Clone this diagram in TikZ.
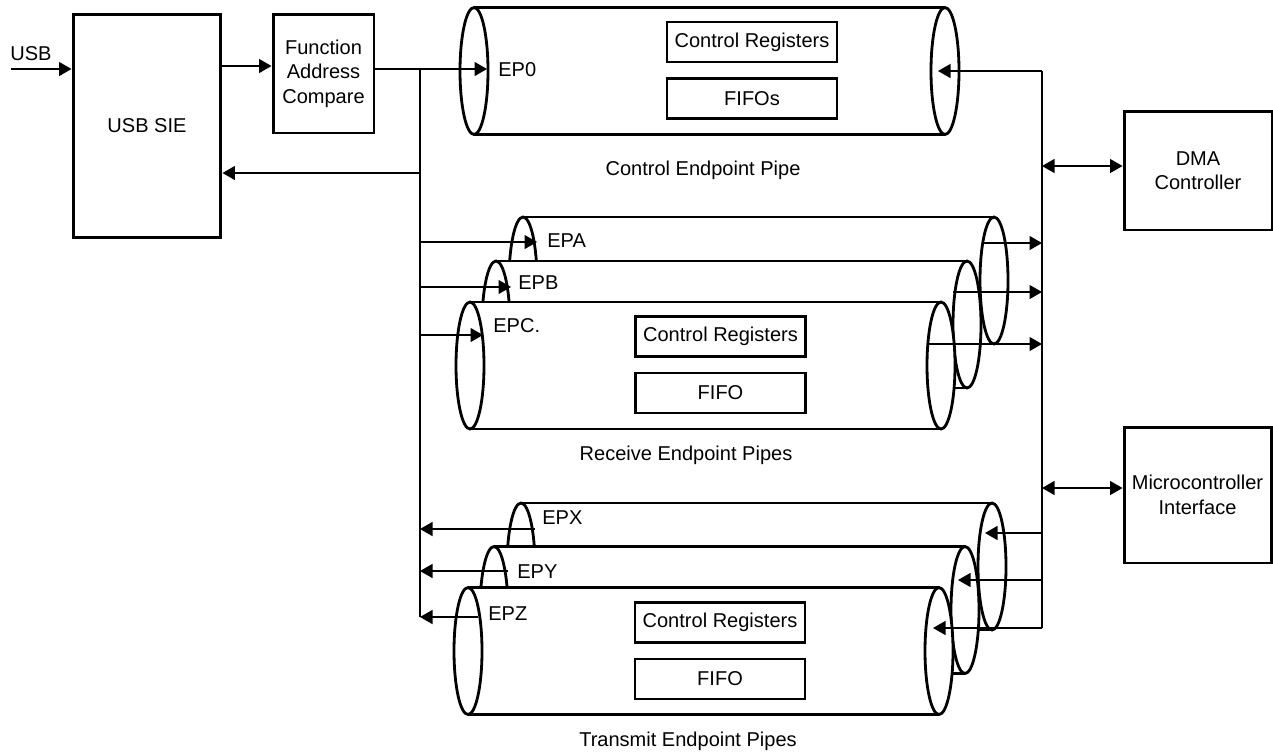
\documentclass[tikz,border=0pt]{standalone}
\usepackage{fontspec}
\setmainfont{Liberation Sans}
\usetikzlibrary{arrows.meta}
\begin{document}
\begin{tikzpicture}[x=0.02cm,y=-0.02cm,
  font=\fontsize{11.4}{14}\selectfont,
  block/.style={draw,line width=1.7pt,align=center,inner sep=0pt},
  regbox/.style={draw,line width=1.3pt,minimum width=3.4cm,minimum height=0.8cm,inner sep=0pt},
  wire/.style={line width=0.75pt},
  arrowline/.style={wire,-{Triangle[length=0.25cm,width=0.28cm]}},
  biarrow/.style={wire,{Triangle[length=0.25cm,width=0.28cm]}-{Triangle[length=0.25cm,width=0.28cm]}},
  rim/.style={line width=1.6pt},
  pipe/.pic={
    \fill[white] (0,-63.5) rectangle (471,63.5);
    \filldraw[rim,fill=white] (471,0) ellipse [x radius=0.28cm,y radius=1.27cm];
    \draw[rim] (0,-63.5) -- (471,-63.5) (0,63.5) -- (471,63.5);
    \filldraw[rim,fill=white] (0,0) ellipse [x radius=0.28cm,y radius=1.27cm];
  }]
\useasboundingbox (0,0) rectangle (1273,752);

% blocks
\node[block,minimum width=2.96cm,minimum height=4.48cm] (sie) at (147,126) {USB SIE};
\node[block,minimum width=2.02cm,minimum height=2.38cm] (fac) at (323.5,73.5) {Function\\Address\\Compare};
\node[block,minimum width=2.96cm,minimum height=2.38cm] (dma) at (1198,170.5) {DMA\\Controller};
\node[block,minimum width=2.94cm,minimum height=2.72cm] (mcu) at (1197.5,495) {Microcontroller\\Interface};
\node[anchor=base west,inner sep=0pt] (usblbl) at (10,60) {USB};

% control pipe
\pic at (474,71) {pipe};
\node[regbox] (ep0reg) at (752,42) {Control Registers};
\node[regbox] (ep0fifo) at (752,98.5) {FIFOs};
\node[anchor=base west,inner sep=0pt] (ep0lbl) at (498,76) {EP0};
\node[anchor=base,inner sep=0pt] (ctrllbl) at (703,175) {Control Endpoint Pipe};

% receive pipes
\pic at (523,280.5) {pipe};
\pic at (496,324.5) {pipe};
\pic at (470,365.5) {pipe};
\node[regbox] (rxreg) at (720.5,336.5) {Control Registers};
\node[regbox] (rxfifo) at (720.5,393) {FIFO};
\node[anchor=base west,inner sep=0pt] (epAlbl) at (547,247) {EPA};
\node[anchor=base west,inner sep=0pt] (epBlbl) at (518,289) {EPB};
\node[anchor=base west,inner sep=0pt] (epClbl) at (493,332) {EPC.};
\node[anchor=base,inner sep=0pt] (rxlbl) at (686,460) {Receive Endpoint Pipes};

% transmit pipes
\pic at (521,566.5) {pipe};
\pic at (494,610) {pipe};
\pic at (468,651) {pipe};
\node[regbox] (txreg) at (720,622.5) {Control Registers};
\node[regbox] (txfifo) at (720,679) {FIFO};
\node[anchor=base west,inner sep=0pt] (epXlbl) at (542,524) {EPX};
\node[anchor=base west,inner sep=0pt] (epYlbl) at (517,578) {EPY};
\node[anchor=base west,inner sep=0pt] (epZlbl) at (488,620) {EPZ};
\node[anchor=base,inner sep=0pt] (txlbl) at (688,746) {Transmit Endpoint Pipes};

% connector ends
\coordinate (usb) at (11,69);
\coordinate (siefac) at (221,66);
\coordinate (lbus) at (420,0);
\coordinate (rbus) at (1042,0);
\coordinate (sieret) at (420,173);
\coordinate (ep0in) at (487,69);
\coordinate (ep0ret) at (938,71);
\coordinate (dmalink) at (1042,166);
\coordinate (mculink) at (1042,488);
\coordinate (epAin) at (537,242);
\coordinate (epBin) at (511,287);
\coordinate (epCin) at (483,335);
\coordinate (epAout) at (983,243);
\coordinate (epBout) at (953,292);
\coordinate (epCout) at (928,344);
\coordinate (epXout) at (535,529);
\coordinate (epYout) at (508,571);
\coordinate (epZout) at (478,617);
\coordinate (epXin) at (985,533);
\coordinate (epYin) at (958,580);
\coordinate (epZin) at (933,628);

% connectors
\draw[arrowline] (usb) -- (usb -| sie.west);
\draw[arrowline] (siefac) -- (siefac -| fac.west);
\draw[arrowline] (ep0in -| fac.east) -- (ep0in);
\draw[wire] (ep0in -| lbus) -- (epZout -| lbus);
\draw[arrowline] (sieret) -- (sieret -| sie.east);
\draw[wire] (ep0ret -| rbus) -- (epZin -| rbus);
\draw[arrowline] (ep0ret -| rbus) -- (ep0ret);
\draw[biarrow] (dmalink) -- (dmalink -| dma.west);
\draw[biarrow] (mculink) -- (mculink -| mcu.west);
\draw[arrowline] (epAin -| lbus) -- (epAin);
\draw[arrowline] (epBin -| lbus) -- (epBin);
\draw[arrowline] (epCin -| lbus) -- (epCin);
\draw[arrowline] (epAout) -- (epAout -| rbus);
\draw[arrowline] (epBout) -- (epBout -| rbus);
\draw[arrowline] (epCout) -- (epCout -| rbus);
\draw[arrowline] (epXout) -- (epXout -| lbus);
\draw[arrowline] (epYout) -- (epYout -| lbus);
\draw[arrowline] (epZout) -- (epZout -| lbus);
\draw[arrowline] (epXin -| rbus) -- (epXin);
\draw[arrowline] (epYin -| rbus) -- (epYin);
\draw[arrowline] (epZin -| rbus) -- (epZin);
\end{tikzpicture}
\end{document}
